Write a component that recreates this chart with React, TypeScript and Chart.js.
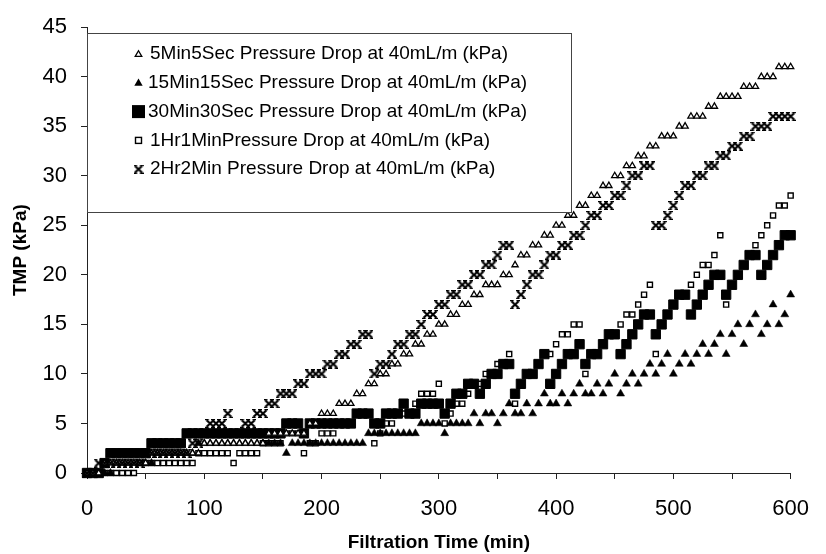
import React, { useEffect, useRef } from 'react';
import { Chart, registerables } from 'chart.js';

Chart.register(...registerables);

// ---------- data ----------
const FILTRATION_TIME_MIN = [
  0, 5, 10, 15, 20, 25, 30, 35, 40, 45,
  50, 55, 60, 65, 70, 75, 80, 85, 90, 95,
  100, 105, 110, 115, 120, 125, 130, 135, 140, 145,
  150, 155, 160, 165, 170, 175, 180, 185, 190, 195,
  200, 205, 210, 215, 220, 225, 230, 235, 240, 245,
  250, 255, 260, 265, 270, 275, 280, 285, 290, 295,
  300, 305, 310, 315, 320, 325, 330, 335, 340, 345,
  350, 355, 360, 365, 370, 375, 380, 385, 390, 395,
  400, 405, 410, 415, 420, 425, 430, 435, 440, 445,
  450, 455, 460, 465, 470, 475, 480, 485, 490, 495,
  500, 505, 510, 515, 520, 525, 530, 535, 540, 545,
  550, 555, 560, 565, 570, 575, 580, 585, 590, 595,
  600,
];

const TMP_5MIN5SEC = [
  0, 0, 0, 1, 1, 1, 1, 1, 1, 1,
  1, 2, 2, 2, 2, 2, 2, 2, 2, 2,
  3, 3, 3, 3, 3, 3, 3, 3, 3, 3,
  3, 4, 4, 4, 4, 4, 4, 4, 5, 5,
  6, 6, 6, 7, 7, 7, 8, 8, 9, 9,
  10, 10, 11, 11, 12, 12, 13, 13, 14, 14,
  15, 15, 16, 16, 17, 17, 18, 18, 19, 19,
  19, 20, 20, 21, 22, 22, 23, 23, 24, 24,
  25, 25, 26, 26, 27, 27, 28, 28, 29, 29,
  30, 30, 31, 31, 32, 32, 33, 33, 34, 34,
  34, 35, 35, 36, 36, 36, 37, 37, 38, 38,
  38, 38, 39, 39, 39, 40, 40, 40, 41, 41,
  41,
];

const TMP_15MIN15SEC = [
  0, 0, 0, 0, 0, 1, 1, 1, 1, 1,
  1, 1, 2, 2, 2, 2, 2, 2, 2, 3,
  3, 3, 3, 3, 3, 3, 3, 3, 3, 3,
  3, 3, 3, 3, 2, 3, 3, 3, 3, 3,
  3, 3, 3, 3, 3, 3, 3, 3, 4, 4,
  4, 4, 4, 4, 4, 4, 4, 5, 5, 5,
  5, 4, 5, 5, 5, 5, 6, 5, 6, 6,
  5, 6, 7, 6, 6, 7, 6, 7, 8, 7,
  7, 8, 7, 8, 9, 8, 8, 9, 8, 9,
  10, 8, 9, 10, 9, 10, 11, 10, 11, 12,
  10, 11, 12, 11, 12, 13, 12, 13, 14, 12,
  14, 15, 13, 15, 16, 14, 15, 17, 15, 16,
  18,
];

const TMP_30MIN30SEC = [
  0, 0, 0, 1, 2, 2, 2, 2, 2, 2,
  2, 3, 3, 3, 3, 3, 3, 4, 4, 4,
  4, 4, 4, 4, 4, 4, 4, 4, 4, 4,
  4, 4, 4, 4, 5, 5, 5, 4, 5, 5,
  5, 5, 5, 5, 5, 5, 6, 6, 6, 5,
  5, 6, 6, 6, 7, 6, 6, 7, 7, 7,
  7, 6, 7, 8, 8, 9, 9, 8, 9, 10,
  10, 11, 11, 8, 9, 10, 10, 11, 12, 9,
  10, 11, 12, 12, 13, 11, 12, 12, 13, 14,
  14, 12, 13, 14, 15, 16, 16, 14, 15, 16,
  17, 18, 18, 16, 17, 18, 19, 20, 20, 18,
  19, 20, 21, 22, 22, 20, 21, 22, 23, 24,
  24,
];

const TMP_1HR1MIN = [
  0, 0, 0, 0, 0, 0, 0, 0, 0, 1,
  1, 1, 1, 1, 1, 1, 1, 1, 1, 2,
  2, 2, 2, 2, 2, 1, 2, 2, 2, 2,
  3, 3, 3, 3, 4, 4, 4, 2, 3, 3,
  4, 4, 4, 5, 5, 5, 6, 6, 6, 3,
  4, 5, 5, 6, 6, 6, 7, 8, 8, 8,
  9, 5, 6, 7, 7, 8, 9, 9, 10, 10,
  11, 11, 12, 7, 9, 10, 10, 11, 12, 12,
  13, 14, 14, 15, 15, 10, 12, 12, 13, 14,
  14, 15, 16, 16, 17, 18, 19, 12, 15, 16,
  17, 18, 18, 19, 20, 21, 21, 22, 24, 17,
  19, 20, 21, 22, 23, 24, 25, 26, 27, 27,
  28,
];

const TMP_2HR2MIN = [
  0, 0, 1, 1, 1, 1, 1, 1, 1, 1,
  2, 2, 2, 2, 2, 2, 2, 2, 3, 3,
  4, 5, 5, 5, 6, 4, 4, 5, 5, 6,
  6, 7, 7, 8, 8, 8, 9, 9, 10, 10,
  10, 11, 11, 12, 12, 13, 13, 14, 14, 10,
  11, 11, 12, 13, 13, 14, 14, 15, 16, 16,
  17, 17, 18, 18, 19, 19, 20, 20, 21, 21,
  22, 23, 23, 17, 18, 19, 20, 20, 21, 22,
  22, 23, 23, 24, 24, 25, 26, 26, 27, 27,
  28, 28, 29, 30, 30, 31, 31, 25, 25, 26,
  27, 28, 29, 29, 30, 30, 31, 31, 32, 32,
  33, 33, 34, 34, 35, 35, 35, 36, 36, 36,
  36,
];

const SERIES_LABELS = [
  '5Min5Sec Pressure Drop at 40mL/m (kPa)',
  '15Min15Sec Pressure Drop at 40mL/m (kPa)',
  '30Min30Sec Pressure Drop at 40mL/m (kPa)',
  '1Hr1MinPressure Drop at 40mL/m (kPa)',
  '2Hr2Min Pressure Drop at 40mL/m (kPa)',
];

const X_LABELLED_TICKS = [0, 100, 200, 300, 400, 500, 600];
const X_TITLE = 'Filtration Time (min)';
const Y_TITLE = 'TMP (kPa)';

// ---------- styling helpers ----------
const FONT = '"Liberation Sans", Arial, Helvetica, sans-serif';

function makeXMarker(): HTMLCanvasElement {
  const c = document.createElement('canvas');
  c.width = 10;
  c.height = 9;
  const g = c.getContext('2d') as CanvasRenderingContext2D;
  g.strokeStyle = '#000';
  g.lineWidth = 2.2;
  g.beginPath();
  g.moveTo(1.5, 1.2);
  g.lineTo(8.5, 7.8);
  g.moveTo(8.5, 1.2);
  g.lineTo(1.5, 7.8);
  g.stroke();
  g.lineWidth = 1.3;
  g.beginPath();
  g.moveTo(0, 0.7);
  g.lineTo(3.6, 0.7);
  g.moveTo(6.4, 0.7);
  g.lineTo(10, 0.7);
  g.moveTo(0, 8.3);
  g.lineTo(3.6, 8.3);
  g.moveTo(6.4, 8.3);
  g.lineTo(10, 8.3);
  g.stroke();
  return c;
}

function trianglePath(ctx: CanvasRenderingContext2D, x: number, y: number, r: number) {
  ctx.beginPath();
  ctx.moveTo(x, y - r);
  ctx.lineTo(x + r * Math.sin((2 * Math.PI) / 3), y + r / 2);
  ctx.lineTo(x - r * Math.sin((2 * Math.PI) / 3), y + r / 2);
  ctx.closePath();
}

export default function App() {
  const ref = useRef<HTMLCanvasElement | null>(null);

  useEffect(() => {
    if (!ref.current) return;
    const xMark = makeXMarker();
    const pts = (vals: number[]) => FILTRATION_TIME_MIN.map((t, i) => ({ x: t, y: vals[i] }));

    const legendPlugin = {
      id: 'boxLegend',
      afterDraw(chart: any) {
        const ctx: CanvasRenderingContext2D = chart.ctx;
        ctx.save();
        const L = 87.5, T = 33.5, R = 571.5, B = 212.5;
        ctx.fillStyle = '#fff';
        ctx.fillRect(L, T, R - L, B - T);
        ctx.strokeStyle = '#444';
        ctx.lineWidth = 1;
        ctx.strokeRect(L, T, R - L, B - T);
        ctx.font = `19px ${FONT}`;
        ctx.textBaseline = 'middle';
        ctx.textAlign = 'left';
        SERIES_LABELS.forEach((label, i) => {
          const y = 54 + i * 28.8;
          const mx = 138.5;
          ctx.fillStyle = '#000';
          ctx.strokeStyle = '#000';
          if (i === 0) {
            trianglePath(ctx, mx, y + 0.5, 3.8);
            ctx.fillStyle = '#fff';
            ctx.fill();
            ctx.lineWidth = 1.3;
            ctx.stroke();
          } else if (i === 1) {
            trianglePath(ctx, mx, y + 0.5, 4.8);
            ctx.fill();
          } else if (i === 2) {
            ctx.fillRect(mx - 6.5, y - 6.5, 13, 13);
          } else if (i === 3) {
            ctx.fillStyle = '#fff';
            ctx.fillRect(mx - 3, y - 3, 6, 6);
            ctx.lineWidth = 1.4;
            ctx.strokeRect(mx - 3, y - 3, 6, 6);
          } else {
            ctx.drawImage(xMark, mx - 5, y - 4.5);
          }
          ctx.fillStyle = '#000';
          ctx.fillText(label, i === 1 || i === 2 ? 148 : 150, y);
        });
        ctx.restore();
      },
    };

    const common = { showLine: false, clip: false as any };

    const chart = new Chart(ref.current, {
      type: 'scatter',
      data: {
        datasets: [
          {
            ...common,
            label: SERIES_LABELS[0],
            data: pts(TMP_5MIN5SEC),
            pointStyle: 'triangle',
            pointRadius: 3.6,
            pointBorderWidth: 1.3,
            pointBackgroundColor: '#fff',
            pointBorderColor: '#000',
            order: 1,
          },
          {
            ...common,
            label: SERIES_LABELS[1],
            data: pts(TMP_15MIN15SEC),
            pointStyle: 'triangle',
            pointRadius: 4.6,
            pointBorderWidth: 0.5,
            pointBackgroundColor: '#000',
            pointBorderColor: '#000',
            order: 3,
          },
          {
            ...common,
            label: SERIES_LABELS[2],
            data: pts(TMP_30MIN30SEC),
            pointStyle: 'rect',
            pointRadius: 6.6,
            pointBorderWidth: 1,
            pointBackgroundColor: '#000',
            pointBorderColor: '#000',
            order: 2,
          },
          {
            ...common,
            label: SERIES_LABELS[3],
            data: pts(TMP_1HR1MIN),
            pointStyle: 'rect',
            pointRadius: 3.6,
            pointBorderWidth: 1.4,
            pointBackgroundColor: '#fff',
            pointBorderColor: '#000',
            order: 4,
          },
          {
            ...common,
            label: SERIES_LABELS[4],
            data: pts(TMP_2HR2MIN),
            pointStyle: xMark as any,
            pointRadius: 5,
            pointBorderWidth: 0,
            pointBackgroundColor: '#000',
            pointBorderColor: '#000',
            order: 0,
          },
        ],
      },
      options: {
        animation: false,
        responsive: false,
        events: [],
        layout: { padding: { left: 0, top: 27, right: 24, bottom: 0 } },
        plugins: {
          legend: { display: false },
          tooltip: { enabled: false },
        },
        scales: {
          x: {
            type: 'linear',
            min: 0,
            max: 600,
            afterFit: (s: any) => {
              s.height = 81;
            },
            ticks: {
              stepSize: 50,
              autoSkip: false,
              maxRotation: 0,
              padding: 17,
              color: '#000',
              font: { family: FONT, size: 22 },
              callback: (v: any) => (X_LABELLED_TICKS.includes(Number(v)) ? String(v) : ''),
            },
            grid: { drawOnChartArea: false, drawTicks: true, tickLength: 6, tickColor: '#222', color: '#222' },
            border: { display: true, color: '#222', width: 1 },
            title: {
              display: true,
              text: X_TITLE,
              color: '#000',
              font: { family: FONT, size: 19, weight: 'bold', lineHeight: 0.8 },
              padding: { top: 0, bottom: 4 },
            },
          },
          y: {
            type: 'linear',
            min: 0,
            max: 45,
            afterFit: (s: any) => {
              s.width = 87;
            },
            ticks: {
              stepSize: 5,
              padding: 14,
              color: '#000',
              font: { family: FONT, size: 22 },
            },
            grid: { drawOnChartArea: false, drawTicks: true, tickLength: 6, tickColor: '#222', color: '#222' },
            border: { display: true, color: '#222', width: 1 },
            title: {
              display: true,
              text: Y_TITLE,
              color: '#000',
              font: { family: FONT, size: 19, weight: 'bold' },
              padding: { top: 9.5, bottom: 0 },
            },
          },
        },
      },
      plugins: [legendPlugin],
    });

    return () => chart.destroy();
  }, []);

  return (
    <div style={{ position: 'fixed', left: 0, top: 0, width: 826, height: 554, background: '#fff' }}>
      <canvas ref={ref} width={826} height={554} style={{ width: 826, height: 554, display: 'block' }} />
    </div>
  );
}
